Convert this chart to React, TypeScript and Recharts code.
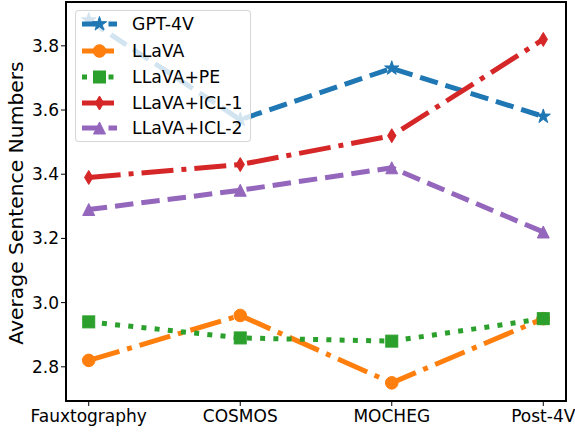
import React from 'react';
import { LineChart, Line, XAxis, YAxis } from 'recharts';

const categories = ['Fauxtography', 'COSMOS', 'MOCHEG', 'Post-4V'];
const gpt4v = [3.88, 3.57, 3.73, 3.58];
const llava = [2.82, 2.96, 2.75, 2.95];
const llavaPE = [2.94, 2.89, 2.88, 2.95];
const llavaICL1 = [3.39, 3.43, 3.52, 3.82];
const llavaICL2 = [3.29, 3.35, 3.42, 3.22];
const yTicks = [2.8, 3.0, 3.2, 3.4, 3.6, 3.8];
const xTicks = [0, 1, 2, 3];

const FONT = '"DejaVu Sans", sans-serif';
const LW = 5;
const DASHED = `${3.7 * LW} ${1.6 * LW}`;
const DASHDOT = `${6.4 * LW} ${1.6 * LW} ${1 * LW} ${1.6 * LW}`;
const DOTTED = `${1 * LW} ${1.65 * LW}`;

type Shape = 'star' | 'circle' | 'square' | 'diamond' | 'triangle';

const series: { key: string; name: string; color: string; dash: string; shape: Shape }[] = [
  { key: 'gpt4v', name: 'GPT-4V', color: '#1f77b4', dash: DASHED, shape: 'star' },
  { key: 'llava', name: 'LLaVA', color: '#ff7f0e', dash: DASHDOT, shape: 'circle' },
  { key: 'llavaPE', name: 'LLaVA+PE', color: '#2ca02c', dash: DOTTED, shape: 'square' },
  { key: 'llavaICL1', name: 'LLaVA+ICL-1', color: '#d62728', dash: DASHDOT, shape: 'diamond' },
  { key: 'llavaICL2', name: 'LLaVA+ICL-2', color: '#9467bd', dash: DASHED, shape: 'triangle' },
];

const data = categories.map((c, i) => ({
  x: i,
  name: c,
  gpt4v: gpt4v[i],
  llava: llava[i],
  llavaPE: llavaPE[i],
  llavaICL1: llavaICL1[i],
  llavaICL2: llavaICL2[i],
}));

function Marker({ shape, color, cx, cy }: { shape: Shape; color: string; cx: number; cy: number }) {
  const common = { fill: color, stroke: color, strokeWidth: 1 };
  if (shape === 'circle') return <circle cx={cx} cy={cy} r={6.3} {...common} />;
  if (shape === 'square') return <rect x={cx - 6} y={cy - 6} width={12} height={12} {...common} />;
  if (shape === 'diamond') {
    const pts = `${cx},${cy - 7} ${cx + 4.2},${cy} ${cx},${cy + 7} ${cx - 4.2},${cy}`;
    return <polygon points={pts} {...common} />;
  }
  if (shape === 'triangle') {
    const pts = `${cx},${cy - 6} ${cx + 6},${cy + 6} ${cx - 6},${cy + 6}`;
    return <polygon points={pts} {...common} />;
  }
  const R = 7.5;
  const r = R * 0.382;
  const pts: string[] = [];
  for (let k = 0; k < 10; k++) {
    const a = -Math.PI / 2 + (k * Math.PI) / 5;
    const rad = k % 2 === 0 ? R : r;
    pts.push(`${cx + rad * Math.cos(a)},${cy + rad * Math.sin(a)}`);
  }
  return <polygon points={pts.join(' ')} {...common} />;
}

function YLabel() {
  return (
    <text
      x={23}
      y={203}
      transform="rotate(-90 23 203)"
      textAnchor="middle"
      fontSize={20.3}
      fontFamily={FONT}
      fill="#000"
    >
      Average Sentence Numbers
    </text>
  );
}

function Legend() {
  const rowY = [14, 41, 67, 93, 118];
  return (
    <div
      style={{
        position: 'absolute',
        left: 75,
        top: 10,
        width: 176,
        height: 132,
        boxSizing: 'border-box',
        background: 'rgba(255,255,255,0.8)',
        border: '1px solid rgba(204,204,204,0.8)',
        borderRadius: 4,
      }}
    >
      <svg width={176} height={132} style={{ position: 'absolute', left: -1, top: -1 }}>
        {series.map((s, i) => (
          <g key={s.key}>
            <line
              x1={7}
              x2={42}
              y1={rowY[i]}
              y2={rowY[i]}
              stroke={s.color}
              strokeWidth={LW}
              strokeDasharray={s.dash}
            />
            <Marker shape={s.shape} color={s.color} cx={24.5} cy={rowY[i]} />
            <text x={57} y={rowY[i]} dominantBaseline="central" fontSize={17.3} fontFamily={FONT} fill="#000">
              {s.name}
            </text>
          </g>
        ))}
      </svg>
    </div>
  );
}

export default function App() {
  return (
    <div style={{ position: 'absolute', left: 0, top: 0, width: 575, height: 432, background: '#fff' }}>
      <LineChart width={575} height={432} data={data} margin={{ top: 2, right: 9, bottom: 1, left: 10 }}>
        <XAxis
          dataKey="x"
          type="number"
          domain={[-0.15, 3.15]}
          ticks={xTicks}
          interval={0}
          allowDataOverflow
          tickFormatter={(v: number) => categories[v]}
          axisLine={false}
          tickSize={5}
          tickMargin={4}
          tickLine={{ stroke: '#000' }}
          height={30}
          tick={{ fontSize: 17, fontFamily: FONT, fill: '#000' }}
        />
        <YAxis
          type="number"
          domain={[2.6935, 3.9365]}
          ticks={yTicks}
          interval={0}
          allowDataOverflow
          tickFormatter={(v: number) => v.toFixed(1)}
          axisLine={false}
          tickSize={5}
          tickLine={{ stroke: '#000' }}
          width={56}
          tick={{ fontSize: 17, fontFamily: FONT, fill: '#000' }}
          label={<YLabel />}
        />
        {series.map((s) => (
          <Line
            key={s.key}
            dataKey={s.key}
            type="linear"
            stroke={s.color}
            strokeWidth={LW}
            strokeDasharray={s.dash}
            strokeLinejoin="round"
            isAnimationActive={false}
            activeDot={false}
            dot={(p: any) => (
              <Marker key={`${s.key}-${p.index}`} shape={s.shape} color={s.color} cx={p.cx} cy={p.cy} />
            )}
          />
        ))}
      </LineChart>
      <div
        style={{
          position: 'absolute',
          left: 65,
          top: 1,
          width: 502,
          height: 401,
          boxSizing: 'border-box',
          border: '2px solid #000',
          pointerEvents: 'none',
        }}
      />
      <Legend />
    </div>
  );
}
